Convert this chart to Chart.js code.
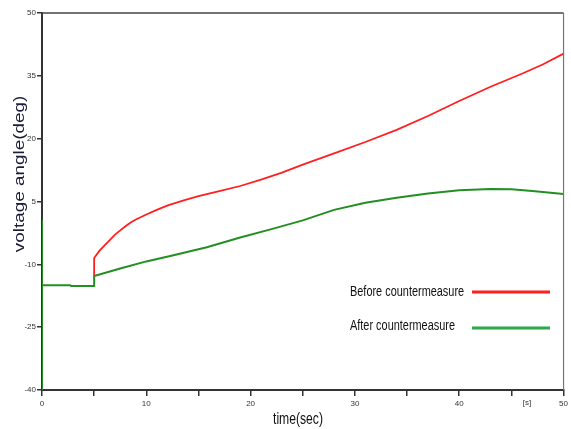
<!DOCTYPE html>
<html>
<head>
<meta charset="utf-8">
<script src="https://cdn.jsdelivr.net/npm/chart.js@4"></script>
<style>
  html, body { margin: 0; padding: 0; background: #fff; }
  #wrap { width: 571px; height: 429px; }
</style>
</head>
<body>
<div id="wrap"><canvas id="angleChart"></canvas></div>
<script>
// --- data ---
const beforeTime  = [5, 5, 5.5, 6, 6.5, 7, 7.5, 8, 8.5, 9, 10, 11, 12, 13.5, 15, 17, 19, 21, 23, 25, 28, 31, 34, 37, 40, 43, 46, 48, 50];
const beforeAngle = [-12.8, -8.5, -6.8, -5.5, -4.2, -2.9, -1.9, -0.9, 0.0, 0.7, 1.9, 3.0, 4.0, 5.2, 6.3, 7.5, 8.7, 10.2, 11.9, 13.8, 16.5, 19.2, 22.1, 25.4, 29.0, 32.4, 35.5, 37.7, 40.3];

const afterTime  = [0, 0, 0, 2.7, 2.8, 5, 5, 7.5, 10, 12.5, 15.8, 19, 22, 25, 28, 31, 34, 37, 40, 43, 45, 47, 50];
const afterAngle = [-40, 0.5, -15, -15, -15.2, -15.2, -12.8, -11.0, -9.3, -7.9, -5.9, -3.6, -1.6, 0.5, 3.0, 4.7, 5.9, 6.9, 7.7, 8.0, 7.9, 7.5, 6.8];

const seriesNames = ['Before countermeasure', 'After countermeasure'];
const xTickLabels = { 0: '0', 10: '10', 20: '20', 30: '30', 40: '40', 50: '50' };
const yTickValues = [-40, -25, -10, 5, 20, 35, 50];
const xUnitLabel = '[s]';
const xTitle = 'time(sec)';
const yTitle = 'voltage angle(deg)';

const RED = '#ff1f1f';
const GREEN = '#238f23';
const NARROW = "'Liberation Sans Narrow', 'Liberation Sans', Arial, sans-serif";

function toPoints(xs, ys) { return xs.map((x, i) => ({ x: x, y: ys[i] })); }

// text squeezed/stretched horizontally (no condensed face installed)
function scaledText(c, text, x, y, sx) {
  c.save();
  c.translate(x, y);
  c.scale(sx, 1);
  c.fillText(text, 0, 0);
  c.restore();
}

// frame, titles, unit label and the legend drawn on the canvas
const decorations = {
  id: 'decorations',
  afterDraw(chart) {
    const c = chart.ctx, a = chart.chartArea;
    const xs = chart.scales.x;
    c.save();
    // top / right frame
    c.strokeStyle = '#444';
    c.lineWidth = 1.5;
    c.beginPath();
    c.moveTo(a.left, a.top); c.lineTo(a.right, a.top);
    c.stroke();
    c.strokeStyle = '#777';
    c.lineWidth = 1.2;
    c.beginPath();
    c.moveTo(a.right, a.top); c.lineTo(a.right, a.bottom);
    c.stroke();

    // unit label on the time axis
    c.fillStyle = '#333';
    c.font = '8px ' + NARROW;
    c.textAlign = 'center';
    c.textBaseline = 'top';
    c.fillText(xUnitLabel, xs.getPixelForValue(46.5), a.bottom + 9);

    // axis titles
    c.fillStyle = '#111';
    c.font = '16px ' + NARROW;
    c.textBaseline = 'middle';
    scaledText(c, xTitle, a.left + 256, a.bottom + 30, 0.76);

    c.save();
    c.translate(20, 174);
    c.rotate(-Math.PI / 2);
    c.fillStyle = '#1c1c38';
    c.font = '14px Arial, sans-serif';
    scaledText(c, yTitle, 0, 0, 1.35);
    c.restore();

    // legend: text then a line swatch
    const colors = [RED, '#2aa84a'];
    const rows = [292, 326];
    c.font = '14px ' + NARROW;
    c.textAlign = 'left';
    seriesNames.forEach((name, i) => {
      c.fillStyle = '#111';
      scaledText(c, name, 350, rows[i], 0.78);
      c.strokeStyle = colors[i];
      c.lineWidth = 3;
      c.beginPath();
      c.moveTo(472, rows[i] + i * 2);
      c.lineTo(550, rows[i] + i * 2);
      c.stroke();
    });
    c.restore();
  }
};

new Chart(document.getElementById('angleChart'), {
  type: 'line',
  data: {
    datasets: [
      { label: seriesNames[1], data: toPoints(afterTime, afterAngle), borderColor: GREEN, borderWidth: 2, pointRadius: 0, tension: 0 },
      { label: seriesNames[0], data: toPoints(beforeTime, beforeAngle), borderColor: RED, borderWidth: 1.8, pointRadius: 0, tension: 0 }
    ]
  },
  options: {
    responsive: true,
    maintainAspectRatio: false,
    animation: false,
    layout: { padding: { left: 0, top: 13, right: 7, bottom: 0 } },
    plugins: { legend: { display: false }, tooltip: { enabled: false } },
    scales: {
      x: {
        type: 'linear', min: 0, max: 50,
        afterFit: s => { s.height = 39; },
        afterBuildTicks: s => { s.ticks = [0, 5, 10, 15, 20, 25, 30, 35, 40, 45, 50].map(v => ({ value: v })); },
        border: { display: true, color: '#333', width: 2 },
        grid: { drawOnChartArea: false, drawTicks: true, tickLength: 6, color: '#333', lineWidth: 1.5 },
        ticks: {
          autoSkip: false, maxRotation: 0, padding: 3,
          color: '#333', font: { size: 8, family: NARROW },
          callback: v => xTickLabels[v] !== undefined ? xTickLabels[v] : ''
        }
      },
      y: {
        type: 'linear', min: -40, max: 50,
        afterFit: s => { s.width = 42; },
        afterBuildTicks: s => { s.ticks = yTickValues.map(v => ({ value: v })); },
        border: { display: true, color: '#333', width: 2 },
        grid: { drawOnChartArea: false, drawTicks: true, tickLength: 5, color: '#333', lineWidth: 1.5 },
        ticks: { padding: 1, color: '#333', font: { size: 8, family: NARROW } }
      }
    }
  },
  plugins: [decorations]
});
</script>
</body>
</html>
